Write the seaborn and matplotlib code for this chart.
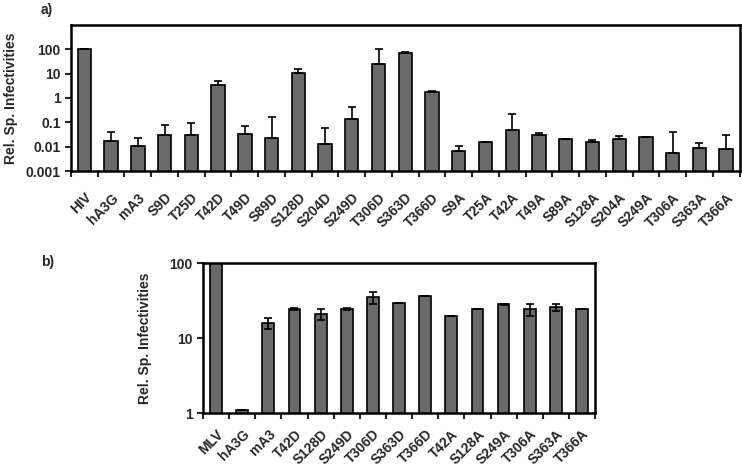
import numpy as np
import pandas as pd
import matplotlib
matplotlib.use('Agg')
import matplotlib.pyplot as plt
from matplotlib.ticker import FixedLocator, NullLocator
import seaborn as sns

sns.set_style('ticks')
plt.rcParams['font.family'] = ['Liberation Sans', 'DejaVu Sans']
plt.rcParams['font.weight'] = 'bold'

# panel a data
labels_a = ['HIV', 'hA3G', 'mA3', 'S9D', 'T25D', 'T42D', 'T49D', 'S89D', 'S128D',
            'S204D', 'S249D', 'T306D', 'S363D', 'T366D', 'S9A', 'T25A', 'T42A',
            'T49A', 'S89A', 'S128A', 'S204A', 'S249A', 'T306A', 'S363A', 'T366A']
vals_a = [100, 0.017, 0.011, 0.031, 0.031, 3.3, 0.034, 0.023, 11,
          0.013, 0.14, 26, 68, 1.8, 0.0068, 0.015, 0.049,
          0.029, 0.02, 0.016, 0.02, 0.025, 0.0056, 0.009, 0.0082]
errtop_a = [100, 0.041, 0.023, 0.08, 0.097, 5.2, 0.072, 0.17, 16,
            0.06, 0.44, 105, 78, 1.85, 0.0108, 0.015, 0.23,
            0.037, 0.021, 0.019, 0.028, 0.026, 0.041, 0.0144, 0.031]

# panel b data
labels_b = ['MLV', 'hA3G', 'mA3', 'T42D', 'S128D', 'S249D', 'T306D', 'S363D',
            'T366D', 'T42A', 'S128A', 'S249A', 'T306A', 'S363A', 'T366A']
vals_b = [100, 1.1, 15.8, 24.5, 21, 24.5, 35, 29.5, 36, 19.8, 24.5, 28.5, 24.5, 26, 24.5]
err_b = [0, 0, 2.6, 1.0, 3.5, 1.0, 6.5, 0, 0, 0, 0, 0.5, 4.5, 3.0, 0]

bar_color = '#6a6a6a'
fs = 10

fig = plt.figure(figsize=(7.42, 4.7), dpi=100)
ax_a = fig.add_axes([0.0957, 0.636, 0.901, 0.311])
ax_b = fig.add_axes([0.2736, 0.121, 0.5284, 0.319])


def style_axis(ax, labels, yticks, yticklabels, ylim, xpad):
    n = len(labels)
    ax.set_yscale('log')
    ax.set_ylim(*ylim)
    ax.set_xlim(-0.5, n - 0.5)
    ax.yaxis.set_major_locator(FixedLocator(yticks))
    ax.set_yticklabels(yticklabels)
    ax.yaxis.set_minor_locator(NullLocator())
    ax.set_xticks(range(n))
    ax.set_xticklabels(labels, rotation=45, ha='right', rotation_mode='anchor')
    ax.xaxis.set_minor_locator(FixedLocator(np.arange(-0.5, n, 1.0)))
    ax.tick_params(axis='x', which='major', length=0, pad=xpad, labelsize=fs)
    ax.tick_params(axis='x', which='minor', length=4, width=1.5, direction='out')
    ax.tick_params(axis='y', which='major', length=4, width=1.5, direction='out', labelsize=fs)
    for lab in ax.get_xticklabels() + ax.get_yticklabels():
        lab.set_fontweight('bold')
    for sp in ax.spines.values():
        sp.set_visible(True)
        sp.set_linewidth(1.8)
        sp.set_color('black')
    ax.set_xlabel('')
    ax.set_ylabel('Rel. Sp. Infectivities', fontsize=fs, fontweight='bold')


# panel a
df_a = pd.DataFrame({'label': labels_a, 'value': vals_a})
sns.barplot(data=df_a, x='label', y='value', color=bar_color, edgecolor='black',
            linewidth=1.2, width=0.5, saturation=1, ax=ax_a)
up_a = np.array(errtop_a) - np.array(vals_a)
ax_a.errorbar(range(len(labels_a)), vals_a, yerr=[np.zeros(len(vals_a)), up_a],
              fmt='none', ecolor='black', elinewidth=1.2, capsize=3, capthick=1.2)
style_axis(ax_a, labels_a, [0.001, 0.01, 0.1, 1, 10, 100],
           ['0.001', '0.01', '0.1', '1', '10', '100'], (0.001, 1000), 14)
ax_a.yaxis.set_label_coords(-0.08, 0.5)

# panel b
df_b = pd.DataFrame({'label': labels_b, 'value': vals_b})
sns.barplot(data=df_b, x='label', y='value', color=bar_color, edgecolor='black',
            linewidth=1.2, width=0.45, saturation=1, ax=ax_b)
ax_b.errorbar(range(len(labels_b)), vals_b, yerr=err_b,
              fmt='none', ecolor='black', elinewidth=1.2, capsize=3, capthick=1.2)
style_axis(ax_b, labels_b, [1, 10, 100], ['1', '10', '100'], (1, 100), 10)
ax_b.yaxis.set_label_coords(-0.13, 0.5)

fig.text(0.055, 0.978, 'a)', fontsize=fs, fontweight='bold', va='center')
fig.text(0.055, 0.443, 'b)', fontsize=fs, fontweight='bold', va='center')

fig.savefig('out.png', dpi=100)
